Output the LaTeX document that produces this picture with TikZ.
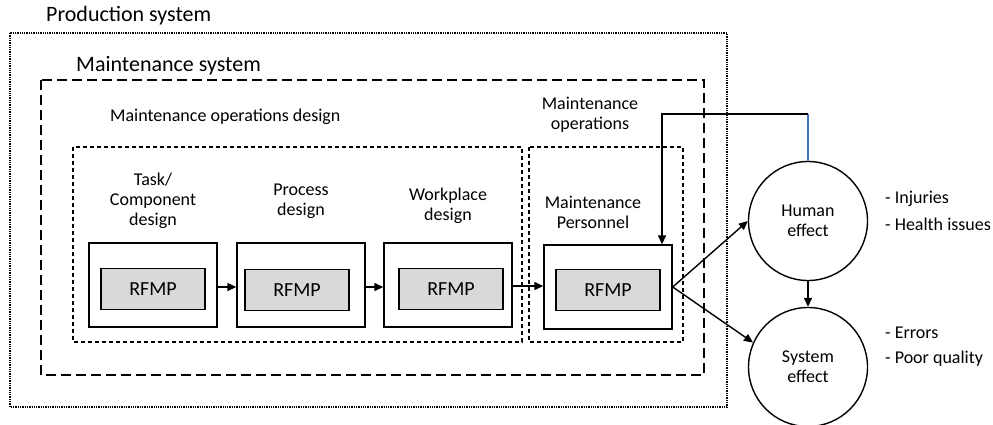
\documentclass[tikz,border=0pt]{standalone}
\usepackage{fontspec}
\setmainfont{Carlito}
\usetikzlibrary{arrows.meta}

\begin{document}
\begin{tikzpicture}[x=1pt,y=-1pt,line join=miter,
  every node/.style={font=\fontsize{18}{20}\selectfont,align=center,inner sep=0pt},
  big/.style={font=\fontsize{22}{24}\selectfont},
  L/.style={line width=1.4pt},
  dots/.style={line width=1.3pt,dash pattern=on 1.3pt off 1pt},
  ldash/.style={line width=1.4pt,dash pattern=on 10pt off 5pt},
  sdash/.style={line width=1.3pt,dash pattern=on 4pt off 3pt},
  outer/.style={draw,line width=1.4pt,minimum width=128pt,minimum height=84pt},
  core/.style={draw,line width=1.4pt,fill=black!15,minimum width=104pt,minimum height=41pt,font=\fontsize{20}{22}\selectfont},
  eff/.style={draw,L,circle,minimum size=119pt},
  arr/.style={L,-{Triangle[length=9pt,width=8pt]}}]
  \useasboundingbox (0,0) rectangle (993,424);

  %% ---- containers
  \draw[dots]  (10,33) rectangle (727,407);
  \draw[ldash] (41,80) rectangle (704,375);
  \draw[sdash] (73,147) rectangle (522,342);
  \draw[sdash] (529,147) rectangle (683,342);
  \node[big,anchor=west] (prodlbl) at (46,16) {Production system};
  \node[big,anchor=west] (mainlbl) at (76,66) {Maintenance system};
  \node[anchor=west] (designlbl) at (110,117) {Maintenance operations design};
  \node (opslbl) at (590,115) {Maintenance\\operations};

  %% ---- stages
  \node[outer] (task) at (153,285) {};
  \node[outer] (proc) at (301,285) {};
  \node[outer] (work) at (448,285) {};
  \node[outer] (pers) at (608,287) {};
  \node[core] (rtask) at (153,289) {RFMP};
  \node[core] (rproc) at (297,290) {RFMP};
  \node[core] (rwork) at (451,289) {RFMP};
  \node[core] (rpers) at (608,290) {RFMP};
  \node (tasklbl) at (153,201) {Task/\\Component\\design};
  \node (proclbl) at (301,201) {Process\\design};
  \node (worklbl) at (448,206) {Workplace\\design};
  \node (perslbl) at (593,212) {Maintenance\\Personnel};

  %% ---- effects
  \node[eff] (human) at (808,221) {Human\\effect};
  \node[eff] (system) at (808,367) {System\\effect};
  \node[anchor=west] (inj) at (885,199) {- Injuries};
  \node[anchor=west] (hea) at (885,224) {- Health issues};
  \node[anchor=west] (err) at (885,333) {- Errors};
  \node[anchor=west] (poor) at (885,359) {- Poor quality};

  %% ---- connectors
  \draw[arr] (task.east |- 0,287) -- (proc.west |- 0,287);
  \draw[arr] (proc.east |- 0,287) -- (work.west |- 0,287);
  \draw[arr] (work.east |- 0,286) -- (pers.west |- 0,286);
  \draw[arr] (pers.east) -- (human.west);
  \draw[arr] (pers.east) -- (system.156);
  \draw[arr] (human.south) -- (system.north);
  \coordinate (turn) at (808,114);
  \draw[L,draw={rgb,255:red,68;green,114;blue,196}] (human.north) -- (turn);
  \draw[arr] (turn) -| (662,0 |- pers.north);
\end{tikzpicture}
\end{document}
